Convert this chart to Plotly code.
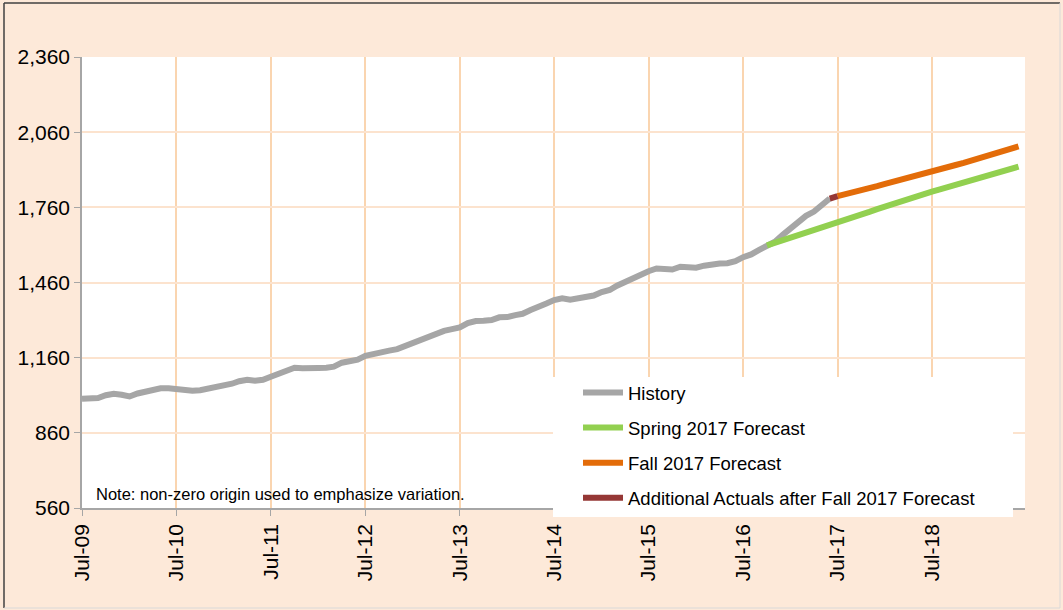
import pandas as pd
import plotly.graph_objects as go

# monthly values
history_start = "2009-07-01"
history = [996, 997, 999, 1010, 1016, 1012, 1005, 1017, 1024, 1031, 1038, 1038,
           1034, 1031, 1028, 1030, 1036, 1044, 1048, 1056, 1066, 1072, 1068, 1072,
           1084, 1096, 1112, 1120, 1118, 1116, 1119, 1120, 1124, 1140, 1145, 1152,
           1167, 1176, 1183, 1188, 1194, 1206, 1222, 1230, 1240, 1257, 1267, 1274,
           1281, 1298, 1306, 1307, 1310, 1321, 1322, 1330, 1335, 1350, 1366, 1376,
           1390, 1397, 1391, 1396, 1406, 1408, 1422, 1430, 1447, 1463, 1480, 1496,
           1505, 1516, 1512, 1512, 1523, 1522, 1519, 1527, 1534, 1536, 1537, 1545,
           1561, 1572, 1590, 1606, 1623, 1650, 1676, 1703, 1726, 1743, 1769, 1795]

spring_start = "2016-10-01"
spring = [1608, 1618, 1629, 1639, 1650, 1660, 1670, 1680, 1690, 1700, 1710, 1720,
          1731, 1742, 1753, 1764, 1774, 1784, 1795, 1805, 1814, 1823, 1832, 1841,
          1850, 1859, 1868, 1877, 1886, 1895, 1904, 1913, 1922]

fall_start = "2017-07-01"
fall = [1805, 1812, 1819, 1827, 1836, 1845, 1854, 1863, 1872, 1881, 1890, 1898,
        1906, 1914, 1921, 1929, 1937, 1946, 1954, 1963, 1972, 1981, 1990, 2003]

actuals_start = "2017-06-01"
actuals = [1795, 1805]

y_ticks = [560, 860, 1160, 1460, 1760, 2060, 2360]
x_ticks = pd.date_range("2009-07-01", periods=10, freq="12MS")
x_labels = [d.strftime("%b-%y") for d in x_ticks]

series = [
    ("History", history_start, history, "#A6A6A6"),
    ("Spring 2017 Forecast", spring_start, spring, "#92D050"),
    ("Fall 2017 Forecast", fall_start, fall, "#E36C09"),
    ("Additional Actuals after Fall 2017 Forecast", actuals_start, actuals, "#953735"),
]

fig = go.Figure()
for name, start, vals, col in series:
    fig.add_trace(go.Scatter(
        x=pd.date_range(start, periods=len(vals), freq="MS"), y=vals,
        mode="lines", name=name, legendgroup=name,
        line=dict(color=col, width=6, shape="linear"),
    ))

W, H = 1063, 610
L, R, T, B = 82, 38, 57, 102
pw, ph = W - L - R, H - T - B


def px_x(p):
    return (p - L) / pw


def px_y(p):
    return (H - B - p) / ph


font = "Liberation Sans, Arial, sans-serif"
peach = "#FDE9D9"

shapes = [
    # white box behind the legend
    dict(type="rect", xref="paper", yref="paper", layer="above",
         x0=px_x(553), x1=px_x(1013), y0=px_y(517), y1=px_y(377),
         fillcolor="white", line=dict(width=0)),
    # chart frame
    dict(type="line", xref="paper", yref="paper", x0=px_x(4), x1=px_x(4),
         y0=px_y(608), y1=px_y(3), line=dict(color="#404040", width=1.5)),
    dict(type="line", xref="paper", yref="paper", x0=px_x(4), x1=px_x(1060),
         y0=px_y(3), y1=px_y(3), line=dict(color="#404040", width=1.5)),
    dict(type="line", xref="paper", yref="paper", x0=px_x(4), x1=px_x(1060),
         y0=px_y(608), y1=px_y(608), line=dict(color="#D9D9D9", width=1)),
    dict(type="line", xref="paper", yref="paper", x0=px_x(1060), x1=px_x(1060),
         y0=px_y(608), y1=px_y(3), line=dict(color="#D9D9D9", width=1)),
]

fig.update_layout(
    width=W, height=H,
    margin=dict(l=L, r=R, t=T, b=B),
    paper_bgcolor=peach, plot_bgcolor="white",
    font=dict(family=font, color="black"),
    shapes=shapes,
    showlegend=True,
    legend=dict(x=px_x(578), y=px_y(374), xanchor="left", yanchor="top",
                bgcolor="rgba(0,0,0,0)", font=dict(size=18.5, family=font),
                traceorder="grouped", tracegroupgap=8, itemwidth=40),
    annotations=[dict(text="Note: non-zero origin used to emphasize variation.",
                      xref="paper", yref="paper", x=px_x(94), y=px_y(494),
                      xanchor="left", yanchor="middle", showarrow=False,
                      font=dict(size=16.5, family=font))],
)

fig.update_xaxes(
    type="date", range=["2009-07-01", "2019-06-26"],
    tickvals=x_ticks, ticktext=x_labels, tickangle=-90,
    tickfont=dict(size=21), ticks="outside", ticklen=6, tickcolor="#A6A6A6",
    showline=True, linecolor="#A6A6A6", linewidth=1.5,
    showgrid=True, gridcolor="#FAD5B0", gridwidth=2, zeroline=False,
)
fig.update_yaxes(
    range=[560, 2360], tickvals=y_ticks, tickformat=",",
    tickfont=dict(size=21), ticks="outside", ticklen=6, tickcolor="#A6A6A6",
    showline=True, linecolor="#A6A6A6", linewidth=1.5,
    showgrid=True, gridcolor="#FCE3CE", gridwidth=1.5, zeroline=False,
)

fig.write_html("out.html", config={"displayModeBar": False},
               post_script="document.body.style.margin='0px';")
